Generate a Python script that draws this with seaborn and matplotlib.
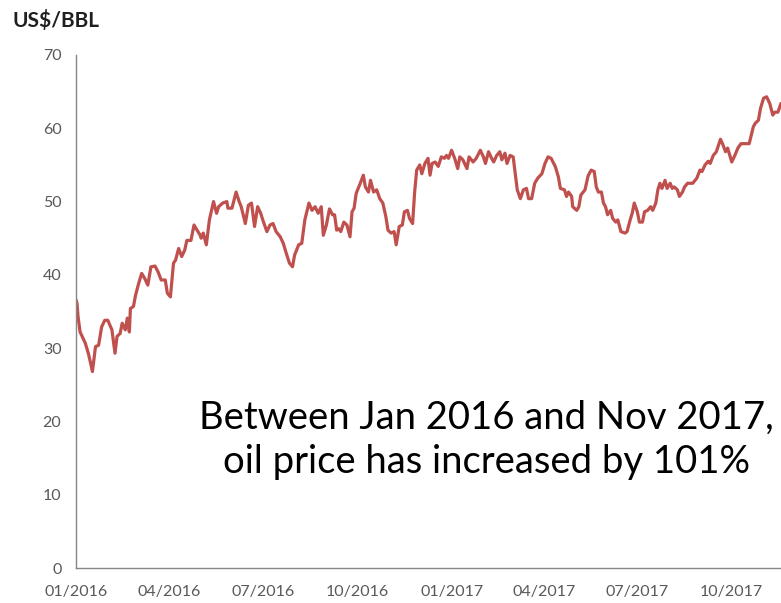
import matplotlib
matplotlib.use("Agg")
import matplotlib.pyplot as plt
import matplotlib.dates as mdates
import seaborn as sns
import pandas as pd

# ---- data ----
dates_2016 = [
    "2016-01-01", "2016-01-02", "2016-01-03", "2016-01-05", "2016-01-10", "2016-01-13", "2016-01-15",
    "2016-01-17", "2016-01-20", "2016-01-23", "2016-01-26", "2016-01-29", "2016-02-01", "2016-02-05",
    "2016-02-08", "2016-02-10", "2016-02-13", "2016-02-15", "2016-02-18", "2016-02-20", "2016-02-22",
    "2016-02-23", "2016-02-26", "2016-02-28", "2016-03-02", "2016-03-05", "2016-03-08", "2016-03-11",
    "2016-03-14", "2016-03-18", "2016-03-21", "2016-03-24", "2016-03-28", "2016-03-30", "2016-04-02",
    "2016-04-05", "2016-04-07", "2016-04-10", "2016-04-13", "2016-04-16", "2016-04-18", "2016-04-22",
    "2016-04-25", "2016-04-28", "2016-05-01", "2016-05-02", "2016-05-04", "2016-05-07", "2016-05-10",
    "2016-05-14", "2016-05-17", "2016-05-19", "2016-05-23", "2016-05-27", "2016-05-28", "2016-06-01",
    "2016-06-05", "2016-06-08", "2016-06-10", "2016-06-14", "2016-06-17", "2016-06-20", "2016-06-23",
    "2016-06-26", "2016-06-29", "2016-07-01", "2016-07-05", "2016-07-08", "2016-07-11", "2016-07-14",
    "2016-07-18", "2016-07-21", "2016-07-24", "2016-07-27", "2016-07-30", "2016-08-01", "2016-08-05",
    "2016-08-08", "2016-08-11", "2016-08-15", "2016-08-18", "2016-08-21", "2016-08-24", "2016-08-27",
    "2016-08-29", "2016-09-01", "2016-09-04", "2016-09-07", "2016-09-09", "2016-09-11", "2016-09-13",
    "2016-09-15", "2016-09-18", "2016-09-21", "2016-09-24", "2016-09-26", "2016-09-28", "2016-09-30",
    "2016-10-04", "2016-10-07", "2016-10-09", "2016-10-12", "2016-10-14", "2016-10-17", "2016-10-20",
    "2016-10-23", "2016-10-26", "2016-10-29", "2016-10-31", "2016-11-03", "2016-11-06", "2016-11-08",
    "2016-11-11", "2016-11-14", "2016-11-16", "2016-11-19", "2016-11-21", "2016-11-24", "2016-11-26",
    "2016-11-28", "2016-12-01", "2016-12-03", "2016-12-06", "2016-12-09", "2016-12-11", "2016-12-13",
    "2016-12-16", "2016-12-19", "2016-12-22", "2016-12-25", "2016-12-27", "2016-12-29",
]
prices_2016 = [
    36.6, 36.1, 34.3, 32.2, 30.7, 29.3, 28.1,
    26.8, 30.2, 30.4, 32.9, 33.8, 33.8, 32.5,
    29.3, 31.6, 32.0, 33.4, 32.5, 34.1, 32.2,
    35.4, 35.7, 37.2, 38.8, 40.2, 39.5, 38.6,
    41.1, 41.2, 40.4, 39.3, 39.3, 37.5, 37.0,
    41.6, 42.0, 43.6, 42.5, 43.4, 44.7, 44.7,
    46.8, 46.1, 45.4, 45.0, 45.7, 44.1, 47.5,
    50.0, 48.4, 49.3, 49.8, 50.0, 49.1, 49.1,
    51.3, 50.0, 49.3, 47.0, 49.5, 49.8, 46.6,
    49.3, 48.4, 47.5, 45.9, 46.8, 47.0, 45.9,
    45.2, 44.3, 42.9, 41.6, 41.1, 42.7, 44.1,
    44.3, 47.5, 49.8, 48.8, 49.3, 48.4, 49.3,
    45.4, 46.8, 49.0, 48.2, 48.2, 46.1, 46.3,
    45.9, 47.2, 46.8, 45.2, 48.6, 49.1, 51.1,
    52.5, 53.6, 52.0, 51.3, 52.9, 51.3, 51.6,
    50.4, 49.8, 47.9, 46.1, 45.7, 45.9, 44.1,
    46.6, 46.8, 48.6, 48.8, 47.7, 47.0, 51.3,
    54.3, 55.0, 53.8, 55.2, 55.9, 53.6, 55.2,
    55.4, 54.8, 56.1, 55.9, 56.3, 55.9,
]
dates_2017 = [
    "2017-01-01", "2017-01-04", "2017-01-07", "2017-01-09", "2017-01-12", "2017-01-16", "2017-01-18",
    "2017-01-22", "2017-01-25", "2017-01-29", "2017-02-01", "2017-02-03", "2017-02-06", "2017-02-09",
    "2017-02-11", "2017-02-14", "2017-02-17", "2017-02-19", "2017-02-22", "2017-02-24", "2017-02-27",
    "2017-03-02", "2017-03-04", "2017-03-06", "2017-03-09", "2017-03-12", "2017-03-15", "2017-03-17",
    "2017-03-20", "2017-03-23", "2017-03-26", "2017-03-30", "2017-04-02", "2017-04-05", "2017-04-08",
    "2017-04-12", "2017-04-15", "2017-04-17", "2017-04-21", "2017-04-23", "2017-04-25", "2017-04-28",
    "2017-04-29", "2017-05-03", "2017-05-05", "2017-05-07", "2017-05-11", "2017-05-14", "2017-05-17",
    "2017-05-20", "2017-05-22", "2017-05-24", "2017-05-27", "2017-05-29", "2017-05-31", "2017-06-02",
    "2017-06-05", "2017-06-07", "2017-06-10", "2017-06-12", "2017-06-15", "2017-06-19", "2017-06-21",
    "2017-06-24", "2017-06-26", "2017-06-28", "2017-07-01", "2017-07-03", "2017-07-06", "2017-07-08",
    "2017-07-11", "2017-07-14", "2017-07-16", "2017-07-19", "2017-07-21", "2017-07-23", "2017-07-25",
    "2017-07-28", "2017-07-30", "2017-08-02", "2017-08-04", "2017-08-06", "2017-08-09", "2017-08-11",
    "2017-08-14", "2017-08-16", "2017-08-19", "2017-08-22", "2017-08-24", "2017-08-28", "2017-08-31",
    "2017-09-02", "2017-09-05", "2017-09-08", "2017-09-10", "2017-09-13", "2017-09-16", "2017-09-20",
    "2017-09-22", "2017-09-25", "2017-09-27", "2017-10-01", "2017-10-04", "2017-10-07", "2017-10-10",
    "2017-10-15", "2017-10-18", "2017-10-22", "2017-10-24", "2017-10-27", "2017-10-29", "2017-11-01",
    "2017-11-04", "2017-11-07", "2017-11-10", "2017-11-12", "2017-11-15", "2017-11-18",
]
prices_2017 = [
    57.0, 55.9, 54.5, 56.1, 55.7, 54.5, 56.1,
    55.4, 55.9, 57.0, 56.1, 55.2, 56.8, 55.9,
    55.4, 56.3, 56.8, 55.7, 56.6, 55.2, 56.3,
    56.1, 53.8, 51.6, 50.4, 51.6, 51.8, 50.4,
    50.4, 52.5, 53.2, 53.8, 55.2, 56.1, 55.9,
    54.8, 53.4, 51.8, 51.6, 50.7, 51.3, 50.7,
    49.3, 48.8, 49.3, 50.9, 51.6, 53.5, 54.3,
    54.1, 52.0, 51.3, 51.3, 49.8, 49.3, 48.2,
    48.8, 47.7, 47.2, 47.5, 45.9, 45.7, 45.9,
    47.5, 48.4, 49.8, 48.6, 47.2, 47.2, 48.6,
    48.8, 49.3, 48.8, 49.8, 51.6, 52.5, 51.8,
    52.9, 51.8, 52.5, 51.8, 52.0, 51.6, 50.7,
    51.3, 52.0, 52.5, 52.5, 52.5, 53.2, 54.3,
    54.1, 55.0, 55.5, 55.2, 56.3, 56.8, 58.5,
    57.9, 56.8, 57.3, 55.4, 56.3, 57.3, 57.9,
    57.9, 57.9, 60.2, 60.7, 61.1, 62.7, 64.1,
    64.3, 63.4, 61.8, 62.2, 62.2, 63.4,
]
y_ticks = [0, 10, 20, 30, 40, 50, 60, 70]
x_start, x_end = "2016-01-01", "2017-11-18"
y_label = "US$/BBL"
note = "Between Jan 2016 and Nov 2017,\noil price has increased by 101%"

df = pd.DataFrame({
    "date": pd.to_datetime(dates_2016 + dates_2017),
    "price": prices_2016 + prices_2017,
})

# ---- style ----
sns.set_style("white")
plt.rcParams["font.family"] = ["Lato", "DejaVu Sans"]

LINE = "#C0504D"
AXIS = "#868686"
TXT = "#595959"

fig = plt.figure(figsize=(7.81, 6.03), dpi=100)
ax = fig.add_axes([76 / 781, 35 / 603, 1 - 76 / 781, 513 / 603])

sns.lineplot(data=df, x="date", y="price", ax=ax, color=LINE, linewidth=2.3,
             estimator=None, clip_on=True)

ax.set_xlim(pd.Timestamp(x_start), pd.Timestamp(x_end))
ax.set_ylim(0, 70)
ax.set_yticks(y_ticks)
ax.xaxis.set_major_locator(mdates.MonthLocator(bymonth=[1, 4, 7, 10]))
ax.xaxis.set_major_formatter(mdates.DateFormatter("%m/%Y"))

for side in ("top", "right"):
    ax.spines[side].set_visible(False)
for side in ("left", "bottom"):
    ax.spines[side].set_color(AXIS)
    ax.spines[side].set_linewidth(1.0)

ax.tick_params(axis="both", which="major", direction="out", length=4.5, width=1.0,
               color=AXIS, labelcolor=TXT, labelsize=11.5)
ax.tick_params(axis="y", pad=6)
ax.tick_params(axis="x", pad=8)
ax.set_xlabel("")
ax.set_ylabel("")

fig.text(12 / 781, 1 - 20 / 603, y_label, ha="left", va="center",
         fontsize=15, fontweight="bold", color="#1F1F1F")

ax.text(0.5816, 0.2495, note, transform=ax.transAxes, ha="center", va="center",
        multialignment="center", fontsize=27.5, color="black", linespacing=1.3)

fig.savefig("out.png", dpi=100)
